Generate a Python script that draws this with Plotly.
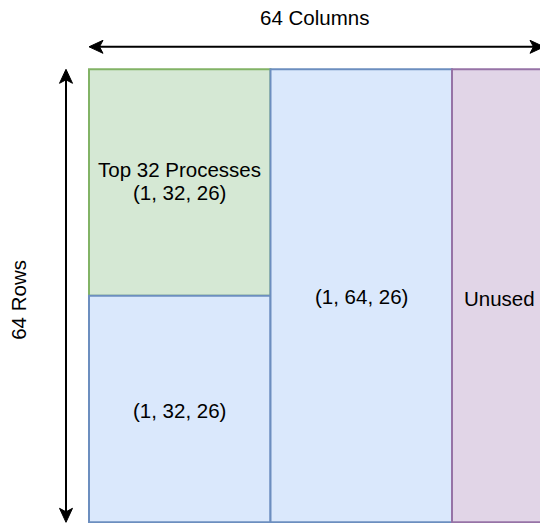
import plotly.graph_objects as go

# ---- data ----
block_labels = ["Top 32 Processes<br>(1, 32, 26)", "(1, 32, 26)", "(1, 64, 26)", "Unused"]
block_col_start = [0, 0, 32, 64]
block_col_end = [32, 32, 64, 96]
block_row_start = [0, 32, 0, 0]
block_row_end = [32, 64, 64, 64]
block_kind = ["green", "blue", "blue", "purple"]

columns_title = "64 Columns"
rows_title = "64 Rows"
total_rows = 64

# ---- styling ----
FILL = {"green": "#d5e8d4", "blue": "#dae8fc", "purple": "#e1d5e7"}
STROKE = {"green": "#82b366", "blue": "#6c8ebf", "purple": "#9673a6"}
FONT = dict(family="Liberation Sans, Arial, Helvetica, sans-serif", size=20.5, color="#000000")
LINE_GAP_PX = 23

W, H = 540, 523
X0_PX, Y0_PX = 89.0, 69.3
PX_PER_COL = 181.5 / 32
PX_PER_ROW = 453.0 / 64


def cx(px):
    return px / PX_PER_COL


def cy(px):
    return px / PX_PER_ROW


x_range = [-cx(X0_PX), cx(W - X0_PX)]
y_range = [cy(H - Y0_PX), -cy(Y0_PX)]

shapes = []
annotations = []

for lab, c0, c1, r0, r1, k in zip(block_labels, block_col_start, block_col_end,
                                  block_row_start, block_row_end, block_kind):
    shapes.append(dict(type="rect", xref="x", yref="y", x0=c0, x1=c1, y0=r0, y1=r1,
                       fillcolor=FILL[k], line=dict(color=STROKE[k], width=2)))
    ymid = (r0 + r1) / 2
    lines = lab.split("<br>")
    n = len(lines)
    base = cy(1) if n == 1 else -cy(1.5)
    for i, ln in enumerate(lines):
        yl = ymid + base + cy((i - (n - 1) / 2) * LINE_GAP_PX)
        if c1 > x_range[1]:
            # block runs past the visible edge: label sits near its left side
            annotations.append(dict(x=c0 + cx(10), y=yl + cy(2), xref="x", yref="y", text=ln,
                                    showarrow=False, xanchor="left", yanchor="middle", font=FONT))
        else:
            annotations.append(dict(x=(c0 + c1) / 2, y=yl, xref="x", yref="y", text=ln,
                                    showarrow=False, xanchor="center", yanchor="middle",
                                    font=FONT))

# ---- double arrows ----
L_PX, W_PX = 14.0, 13.0


def head(tip_x, tip_y, dx, dy):
    px_, py_ = -dy, dx
    pts = [
        (0, 0),
        (dx * L_PX + px_ * W_PX / 2, dy * L_PX + py_ * W_PX / 2),
        (dx * L_PX * 0.75, dy * L_PX * 0.75),
        (dx * L_PX - px_ * W_PX / 2, dy * L_PX - py_ * W_PX / 2),
    ]
    path = "M " + " L ".join(f"{tip_x + cx(a)},{tip_y + cy(b)}" for a, b in pts) + " Z"
    return dict(type="path", xref="x", yref="y", path=path, fillcolor="#000000",
                line=dict(color="#000000", width=1))


# horizontal arrow (columns)
h_y = -cy(22.5)
h_x0 = 0
h_x1 = cx(544 - X0_PX)
shapes.append(dict(type="line", xref="x", yref="y", x0=h_x0 + cx(10), x1=h_x1 - cx(10),
                   y0=h_y, y1=h_y, line=dict(color="#000000", width=2)))
shapes.append(head(h_x0, h_y, 1, 0))
shapes.append(head(h_x1, h_y, -1, 0))
annotations.append(dict(x=(h_x0 + h_x1) / 2 - cx(2), y=-cy(52), xref="x", yref="y",
                        text=columns_title, showarrow=False, xanchor="center",
                        yanchor="middle", font=FONT))

# vertical arrow (rows)
v_x = -cx(23)
v_y0 = 0
v_y1 = total_rows
shapes.append(dict(type="line", xref="x", yref="y", x0=v_x, x1=v_x,
                   y0=v_y0 + cy(10), y1=v_y1 - cy(10), line=dict(color="#000000", width=2)))
shapes.append(head(v_x, v_y0, 0, 1))
shapes.append(head(v_x, v_y1, 0, -1))
annotations.append(dict(x=-cx(X0_PX - 19), y=total_rows / 2 + cy(4), xref="x", yref="y",
                        text=rows_title, showarrow=False, textangle=-90,
                        xanchor="center", yanchor="middle", font=FONT))

fig = go.Figure()
fig.update_layout(
    width=W, height=H,
    margin=dict(l=0, r=0, t=0, b=0),
    paper_bgcolor="#ffffff", plot_bgcolor="#ffffff",
    xaxis=dict(range=x_range, visible=False, fixedrange=True),
    yaxis=dict(range=y_range, visible=False, fixedrange=True),
    shapes=shapes, annotations=annotations, showlegend=False,
)
fig.write_html("out.html", config={"displayModeBar": False},
               post_script="document.body.style.margin='0';document.body.style.overflow='hidden';")
